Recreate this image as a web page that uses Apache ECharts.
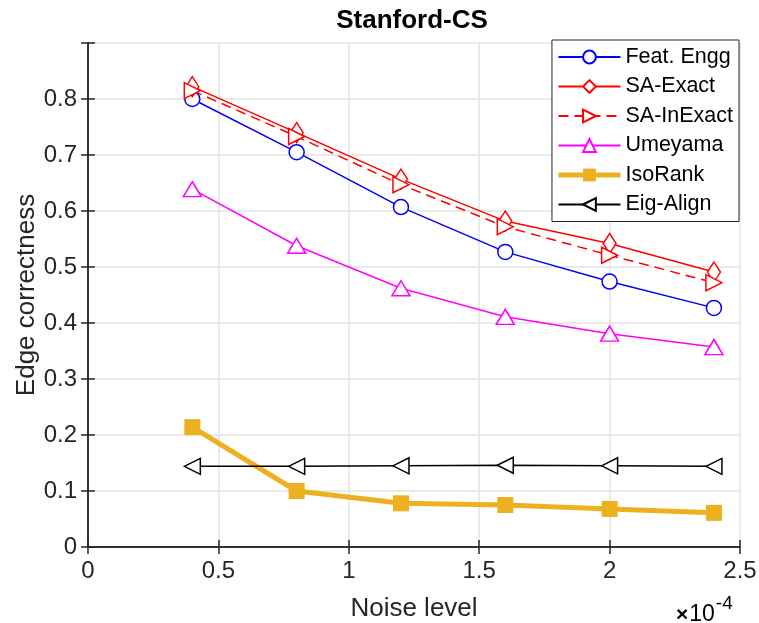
<!DOCTYPE html>
<html>
<head>
<meta charset="utf-8">
<script src="https://cdn.jsdelivr.net/npm/echarts@6/dist/echarts.min.js"></script>
<style>
html,body{margin:0;padding:0;background:#fff;}
#chart{width:759px;height:623px;}
</style>
</head>
<body>
<div id="chart"></div>
<script>
var noiseLevels = [0.4, 0.8, 1.2, 1.6, 2.0, 2.4];
var featEngg   = [0.800, 0.705, 0.607, 0.527, 0.474, 0.427];
var saExact    = [0.822, 0.740, 0.657, 0.582, 0.542, 0.491];
var saInExact  = [0.815, 0.733, 0.647, 0.572, 0.521, 0.472];
var umeyama    = [0.639, 0.538, 0.462, 0.411, 0.381, 0.357];
var isoRank    = [0.214, 0.100, 0.078, 0.075, 0.068, 0.061];
var eigAlign   = [0.144, 0.144, 0.145, 0.146, 0.145, 0.144];
var xTicks = [0, 0.5, 1, 1.5, 2, 2.5];
var yTicks = [0, 0.1, 0.2, 0.3, 0.4, 0.5, 0.6, 0.7, 0.8];

function pairs(ys){ return noiseLevels.map(function(x,i){ return [x, ys[i]]; }); }

var FONT = 'Liberation Sans, Arial, sans-serif';
var AX = '#262626';

var chart = echarts.init(document.getElementById('chart'), null, {renderer:'canvas'});

function hollow(color){ return {color:'#fff', borderColor:color, borderWidth:1.5}; }

var option = {
  backgroundColor:'#fff',
  animation:false,
  grid:{left:88, right:19, top:43, bottom:76, containLabel:false, outerBoundsMode:'none'},
  legend:{
    orient:'vertical', right:20, top:40,
    backgroundColor:'#fff', borderColor:AX, borderWidth:1, borderRadius:0,
    padding:[6,6,6,4],
    itemWidth:62, itemHeight:16, itemGap:7.5,
    textStyle:{fontFamily:FONT, fontSize:21.5, color:'#000'},
    data:['Feat. Engg','SA-Exact','SA-InExact','Umeyama',
      {name:'IsoRank', lineStyle:{width:5}},
      'Eig-Align']
  },
  xAxis:[{
    type:'value', min:0, max:2.5, interval:0.5,
    name:'Noise level', nameLocation:'middle', nameGap:49, nameMoveOverlap:false,
    nameTextStyle:{fontFamily:FONT, fontSize:26, color:AX},
    axisLine:{show:true, lineStyle:{color:AX, width:1.5}},
    axisTick:{show:true, inside:true, length:7, lineStyle:{color:AX, width:1.5}},
    axisLabel:{fontFamily:FONT, fontSize:24, color:AX, margin:12,
      formatter:function(v){ return xTicks.indexOf(+v.toFixed(2))>=0 ? String(+v.toFixed(2)) : ''; }},
    splitLine:{show:true, lineStyle:{color:'#e3e3e3', width:1.5}}
  },{
    type:'value', min:0, max:2.5, interval:0.5, position:'top',
    axisLine:{show:true, lineStyle:{color:AX, width:1.5}},
    axisTick:{show:true, inside:true, length:7, lineStyle:{color:AX, width:1.5}},
    axisLabel:{show:false}, splitLine:{show:false}
  }],
  yAxis:[{
    type:'value', min:0, max:0.9, interval:0.1,
    name:'Edge correctness', nameLocation:'middle', nameGap:48, nameRotate:90, nameMoveOverlap:false,
    nameTextStyle:{fontFamily:FONT, fontSize:26, color:AX},
    axisLine:{show:true, lineStyle:{color:AX, width:1.5}},
    axisTick:{show:true, inside:true, length:7, lineStyle:{color:AX, width:1.5}},
    axisLabel:{fontFamily:FONT, fontSize:24, color:AX, margin:11,
      formatter:function(v){ var r=+v.toFixed(2); return yTicks.indexOf(r)>=0 ? String(r) : ''; }},
    splitLine:{show:true, lineStyle:{color:'#e3e3e3', width:1.5}}
  },{
    type:'value', min:0, max:0.9, interval:0.1, position:'right',
    axisLine:{show:true, lineStyle:{color:AX, width:1.5}},
    axisTick:{show:true, inside:true, length:7, lineStyle:{color:AX, width:1.5}},
    axisLabel:{show:false}, splitLine:{show:false}
  }],
  series:[
    {name:'Feat. Engg', type:'line', data:pairs(featEngg), symbol:'circle', symbolSize:15,
      lineStyle:{color:'#0000ff', width:1.5}, itemStyle:hollow('#0000ff'), color:'#0000ff'},
    {name:'SA-Exact', type:'line', data:pairs(saExact), symbol:'diamond', symbolSize:[13,20],
      lineStyle:{color:'#ff0000', width:1.5}, itemStyle:hollow('#ff0000'), color:'#ff0000'},
    {name:'SA-InExact', type:'line', data:pairs(saInExact), symbol:'triangle', symbolRotate:-90, symbolSize:[16,16],
      lineStyle:{color:'#ff0000', width:1.5, type:[10,6]}, itemStyle:hollow('#ff0000'), color:'#ff0000'},
    {name:'Umeyama', type:'line', data:pairs(umeyama), symbol:'triangle', symbolSize:[18,15],
      lineStyle:{color:'#ff00ff', width:1.5}, itemStyle:hollow('#ff00ff'), color:'#ff00ff'},
    {name:'IsoRank', type:'line', data:pairs(isoRank), symbol:'rect', symbolSize:16,
      lineStyle:{color:'#edb120', width:5}, itemStyle:{color:'#edb120'}, color:'#edb120'},
    {name:'Eig-Align', type:'line', data:pairs(eigAlign), symbol:'triangle', symbolRotate:90, symbolSize:[16,16],
      lineStyle:{color:'#000000', width:1.5}, itemStyle:hollow('#000000'), color:'#000000'}
  ],
  graphic:[{
    type:'text', x:412, y:21,
    style:{
      text:'Stanford-CS', align:'center', verticalAlign:'middle',
      font:'bold 26px ' + FONT, fill:'#000'
    }
  },{
    type:'text', x:676, y:590,
    style:{
      text:'{c|×}{a|10}{b|-4}',
      rich:{
        c:{fontFamily:FONT, fontSize:21, fontWeight:'bold', color:AX, padding:[15,1,0,0]},
        a:{fontFamily:FONT, fontSize:23, color:AX, padding:[13,0,0,0]},
        b:{fontFamily:FONT, fontSize:19, color:AX, padding:[0,0,8,1]}
      }
    }
  }]
};
chart.setOption(option);
</script>
</body>
</html>
